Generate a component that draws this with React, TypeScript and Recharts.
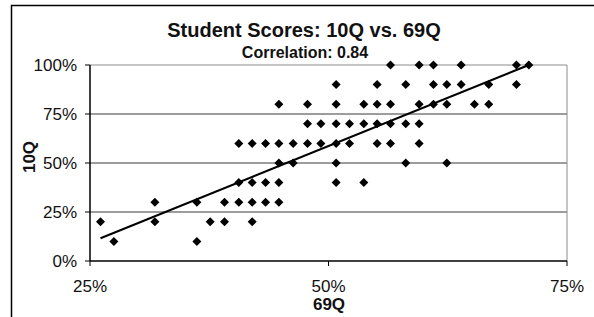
import { ScatterChart, Scatter, XAxis, YAxis, ReferenceLine } from "recharts";

// 69Q score (x) and 10Q score (y) per student, in percent
const scores69Q = [
  56.5, 59.5, 61.0, 63.9, 69.7, 71.0,
  50.8, 55.1, 58.1, 61.0, 62.4, 63.9, 66.8, 69.7,
  44.8, 47.8, 50.8, 53.7, 55.1, 56.5, 59.5, 61.0, 62.4, 65.3, 66.8,
  47.8, 49.2, 50.8, 52.2, 53.7, 55.1, 56.5, 58.1, 59.5,
  40.6, 42.0, 43.4, 44.8, 46.3, 47.8, 49.2, 50.8, 52.2, 55.1, 56.5, 59.5,
  44.8, 46.3, 50.8, 58.1, 62.4,
  40.6, 42.0, 43.4, 44.8, 50.8, 53.7,
  31.8, 36.2, 39.1, 40.6, 42.0, 43.4, 44.8,
  26.1, 31.8, 37.6, 39.1, 42.0,
  27.5, 36.2,
];
const scores10Q = [
  100, 100, 100, 100, 100, 100,
  90, 90, 90, 90, 90, 90, 90, 90,
  80, 80, 80, 80, 80, 80, 80, 80, 80, 80, 80,
  70, 70, 70, 70, 70, 70, 70, 70, 70,
  60, 60, 60, 60, 60, 60, 60, 60, 60, 60, 60, 60,
  50, 50, 50, 50, 50,
  40, 40, 40, 40, 40, 40,
  30, 30, 30, 30, 30, 30, 30,
  20, 20, 20, 20, 20,
  10, 10,
];

// linear trend line end points [69Q, 10Q]
const trendStart = [26.1, 11.6];
const trendEnd = [71.0, 100];

const xTicks = [25, 50, 75];
const yTicks = [0, 25, 50, 75, 100];
const gridValues = [25, 50, 75];

const points = scores69Q.map((x, i) => ({ x, y: scores10Q[i] }));

const pct = (v: number) => `${v}%`;

const Diamond = (props: any) => {
  const { cx, cy } = props;
  const r = 4.5;
  return (
    <polygon
      points={`${cx},${cy - r} ${cx + r},${cy} ${cx},${cy + r} ${cx - r},${cy}`}
      fill="#000"
    />
  );
};

const font = "'Liberation Sans', Arial, sans-serif";

export default function App() {
  return (
    <div
      style={{
        position: "absolute",
        left: 0,
        top: 0,
        width: 594,
        height: 317,
        background: "#fff",
        fontFamily: font,
      }}
    >
      <ScatterChart width={594} height={317} margin={{ top: 65, right: 27, bottom: 26, left: 0 }}>
        {gridValues.map((v) => (
          <ReferenceLine key={v} y={v} stroke="#3a3a3a" strokeWidth={1} />
        ))}
        <ReferenceLine y={100} stroke="#8c8c8c" strokeWidth={1} />
        <ReferenceLine x={75} stroke="#8c8c8c" strokeWidth={1} />
        <XAxis
          type="number"
          dataKey="x"
          domain={[25, 75]}
          ticks={xTicks}
          tickFormatter={pct}
          height={30}
          tickSize={5}
          tickMargin={14}
          axisLine={{ stroke: "#000", strokeWidth: 1.5 }}
          tickLine={{ stroke: "#000" }}
          tick={{ fontSize: 17, fill: "#111", fontFamily: font }}
        />
        <YAxis
          type="number"
          dataKey="y"
          domain={[0, 100]}
          ticks={yTicks}
          tickFormatter={pct}
          width={90}
          tickSize={5}
          tickMargin={8}
          axisLine={{ stroke: "#000", strokeWidth: 1.5 }}
          tickLine={{ stroke: "#000" }}
          tick={{ fontSize: 17, fill: "#111", fontFamily: font }}
        />
        <Scatter data={points} shape={<Diamond />} isAnimationActive={false} />
        <ReferenceLine
          segment={[
            { x: trendStart[0], y: trendStart[1] },
            { x: trendEnd[0], y: trendEnd[1] },
          ]}
          stroke="#000"
          strokeWidth={2}
        />
      </ScatterChart>

      <svg
        width={594}
        height={317}
        style={{ position: "absolute", left: 0, top: 0, pointerEvents: "none" }}
        fontFamily={font}
      >
        <rect x={11.5} y={5.5} width={700} height={400} fill="none" stroke="#000" strokeWidth={1.5} />
        <text x={304} y={37} textAnchor="middle" fontSize={20} fontWeight="bold" fill="#111">
          Student Scores: 10Q vs. 69Q
        </text>
        <text x={305} y={58} textAnchor="middle" fontSize={16} fontWeight="bold" fill="#111">
          Correlation: 0.84
        </text>
        <text x={329} y={310} textAnchor="middle" fontSize={17} fontWeight="bold" fill="#111">
          69Q
        </text>
        <text
          x={35}
          y={157}
          textAnchor="middle"
          fontSize={17}
          fontWeight="bold"
          fill="#111"
          transform="rotate(-90, 35, 157)"
        >
          10Q
        </text>
      </svg>
    </div>
  );
}
